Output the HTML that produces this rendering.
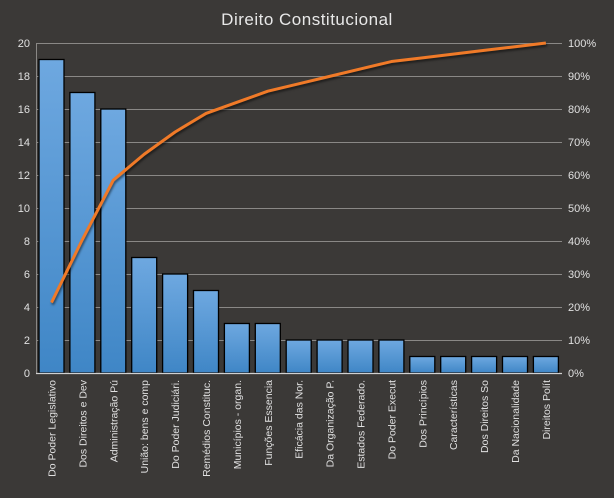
<!DOCTYPE html>
<html><head><style>body{margin:0;background:#3b3937;}</style></head><body>
<svg width="614" height="493" xmlns="http://www.w3.org/2000/svg" font-family="Liberation Sans, sans-serif">
<defs><linearGradient id="g" x1="0" x2="0" y1="0" y2="1"><stop offset="0" stop-color="#6ea8e0"/><stop offset="1" stop-color="#3f86c6"/></linearGradient></defs>
<rect width="614" height="493" fill="#3b3937"/>
<text x="307" y="25" fill="#e8e8e8" font-size="17" text-anchor="middle" letter-spacing="0.5">Direito  Constitucional</text>
<g stroke="#8a8886" stroke-width="1">
<line x1="36" x2="562" y1="43.5" y2="43.5"/><line x1="36" x2="562" y1="76.5" y2="76.5"/><line x1="36" x2="562" y1="109.5" y2="109.5"/><line x1="36" x2="562" y1="142.5" y2="142.5"/><line x1="36" x2="562" y1="175.5" y2="175.5"/><line x1="36" x2="562" y1="208.5" y2="208.5"/><line x1="36" x2="562" y1="241.5" y2="241.5"/><line x1="36" x2="562" y1="274.5" y2="274.5"/><line x1="36" x2="562" y1="307.5" y2="307.5"/><line x1="36" x2="562" y1="340.5" y2="340.5"/>
<line x1="36.5" x2="36.5" y1="43" y2="373"/>
</g>
<g fill="#e0e0e0" font-size="11" text-anchor="end">
<text x="30" y="47">20</text><text x="30" y="80">18</text><text x="30" y="113">16</text><text x="30" y="146">14</text><text x="30" y="179">12</text><text x="30" y="212">10</text><text x="30" y="245">8</text><text x="30" y="278">6</text><text x="30" y="311">4</text><text x="30" y="344">2</text><text x="30" y="377">0</text>
</g>
<g fill="#e0e0e0" font-size="11" text-anchor="start">
<text x="568" y="47">100%</text><text x="568" y="80">90%</text><text x="568" y="113">80%</text><text x="568" y="146">70%</text><text x="568" y="179">60%</text><text x="568" y="212">50%</text><text x="568" y="245">40%</text><text x="568" y="278">30%</text><text x="568" y="311">20%</text><text x="568" y="344">10%</text><text x="568" y="377">0%</text>
</g>
<g fill="url(#g)" stroke="#000" stroke-width="1.3" id="bars"></g>
<line x1="36" x2="562" y1="373.5" y2="373.5" stroke="#d0d0d0" stroke-width="1.2"/>
<polyline id="ln" fill="none" stroke="#f07a28" stroke-width="3" stroke-linejoin="round" style="filter:drop-shadow(1px 2px 1px rgba(0,0,0,0.5))"/>
<g id="lbl" fill="#e0e0e0" font-size="10.5"></g>
</svg>
<script>
var v=[19,17,16,7,6,5,3,3,2,2,2,2,1,1,1,1,1];
var names=["Do Poder Legislativo","Dos Direitos e Dev","Administração Pú","União: bens e comp","Do Poder Judiciári.","Remédios Constituc.","Municípios - organ.","Funções Essencia","Eficácia das Nor.","Da Organização P.","Estados Federado.","Do Poder Execut","Dos Princípios","Características","Dos Direitos So","Da Nacionalidade","Direitos Polít"];
var NS="http://www.w3.org/2000/svg",b=document.getElementById("bars"),l=document.getElementById("lbl"),pts=[],c=0,t=89,w=30.9;
for(var i=0;i<17;i++){
 var x=36+i*w,h=v[i]*16.5;
 var r=document.createElementNS(NS,"rect");r.setAttribute("x",x+3);r.setAttribute("y",373-h);r.setAttribute("width",25);r.setAttribute("height",h);b.appendChild(r);
 c+=v[i];pts.push((x+15.5)+","+(373-330*c/t));
 var tx=document.createElementNS(NS,"text");tx.setAttribute("transform","translate("+(x+19.5)+",380) rotate(-90)");tx.setAttribute("text-anchor","end");tx.textContent=names[i];l.appendChild(tx);
}
document.getElementById("ln").setAttribute("points",pts.join(" "));
</script>
</body></html>
